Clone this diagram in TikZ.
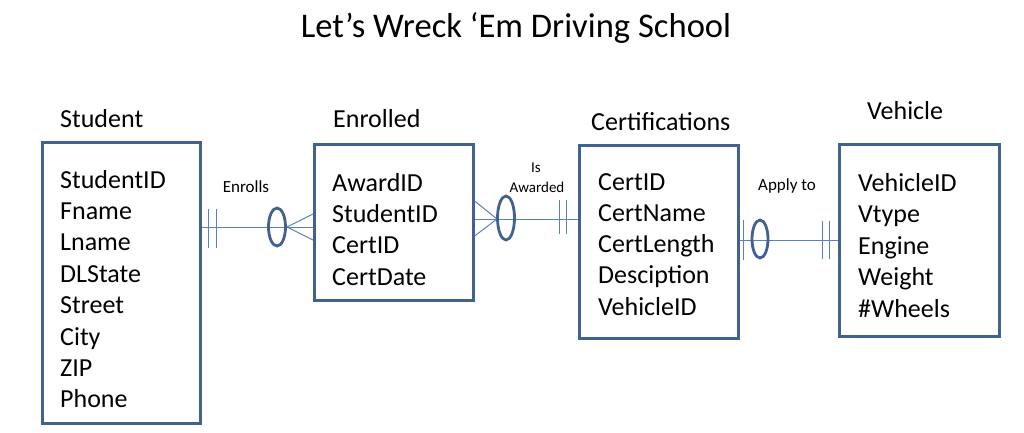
\documentclass[tikz,border=0pt]{standalone}
\usepackage{fontspec}
\setmainfont{Carlito}
\definecolor{boxc}{HTML}{41618F}
\definecolor{linec}{HTML}{5B80BC}
\begin{document}
\begin{tikzpicture}[x=1pt,y=-1pt,
  entity/.style={draw=boxc,line width=2.6pt,anchor=north west,inner sep=0pt},
  hdr/.style={anchor=base west,inner sep=0pt,font=\fontsize{26}{31.4}\selectfont},
  rel/.style={inner sep=0pt,font=\fontsize{17}{20}\selectfont},
  conn/.style={draw=linec,line width=1pt},
  opt/.style={draw=boxc,line width=2.8pt}]
\useasboundingbox (0,0) rectangle (1024,433);
% title
\node[anchor=base,inner sep=0pt,font=\fontsize{34.6}{40}\selectfont] (title) at (516,38) {Let’s Wreck ‘Em Driving School};
% entities
\node[entity,minimum width=158pt,minimum height=281pt] (student) at (41,141) {};
\node[entity,minimum width=159pt,minimum height=156pt] (enrolled) at (313,143) {};
\node[entity,minimum width=159pt,minimum height=193pt] (cert) at (578,144) {};
\node[entity,minimum width=160pt,minimum height=192pt] (vehicle) at (838,143) {};
% headers
\node[hdr] (hstudent) at (60,127) {Student};
\node[hdr] (henrolled) at (333,128) {Enrolled};
\node[hdr] (hcert) at (591,130) {Certifications};
\node[hdr] (hvehicle) at (867,120) {Vehicle};
% attributes
\foreach \t [count=\i] in {StudentID,Fname,Lname,DLState,Street,City,ZIP,Phone}
  \node[hdr] (as\i) at (60,{188+31.4*(\i-1)}) {\t};
\foreach \t [count=\i] in {AwardID,StudentID,CertID,CertDate}
  \node[hdr] (ae\i) at (332,{191+31.4*(\i-1)}) {\t};
\foreach \t [count=\i] in {CertID,CertName,CertLength,Desciption,VehicleID}
  \node[hdr] (ac\i) at (598,{190+31.3*(\i-1)}) {\t};
\foreach \t [count=\i] in {VehicleID,Vtype,Engine,Weight,{\#Wheels}}
  \node[hdr] (av\i) at (858,{191+31.6*(\i-1)}) {\t};
% relationship labels
\node[rel,anchor=base] (lenrolls) at (246,192) {Enrolls};
\node[rel,anchor=base,font=\fontsize{15}{20.5}\selectfont] (lis) at (536,172) {Is};
\node[rel,anchor=base,font=\fontsize{15}{20.5}\selectfont] (lawarded) at (537,192) {Awarded};
\node[rel,anchor=base] (lapply) at (787,190) {Apply to};
% connector 1: Student -- Enrolled
\coordinate (y1) at (0,227);
\draw[conn] (student.east |- y1) -- (enrolled.west |- y1);
\coordinate (cf1) at (287,227);
\draw[conn] (cf1) -- ([yshift=-13pt]enrolled.west |- y1);
\draw[conn] (cf1) -- ([yshift=13pt]enrolled.west |- y1);
\draw[conn] (208,209) -- (208,248);
\draw[conn] (216,209) -- (216,248);
\draw[opt] (277,227) ellipse [x radius=8.5pt,y radius=19pt];
% connector 2: Enrolled -- Certifications
\coordinate (y2) at (0,219);
\draw[conn] (enrolled.east |- y2) -- (cert.west |- y2);
\coordinate (cf2) at (497,219);
\draw[conn] (cf2) -- ([yshift=-17pt]enrolled.east |- y2);
\draw[conn] (cf2) -- ([yshift=18pt]enrolled.east |- y2);
\draw[conn] (559,200) -- (559,234);
\draw[conn] (566,200) -- (566,234);
\draw[opt] (506,218) ellipse [x radius=8.5pt,y radius=22pt];
% connector 3: Certifications -- Vehicle
\coordinate (y3) at (0,240);
\draw[conn] (cert.east |- y3) -- (vehicle.west |- y3);
\draw[conn] (743,220) -- (743,260);
\draw[conn] (822,221) -- (822,259);
\draw[conn] (829,221) -- (829,259);
\draw[opt] (760,239) ellipse [x radius=8pt,y radius=19pt];
\end{tikzpicture}
\end{document}
